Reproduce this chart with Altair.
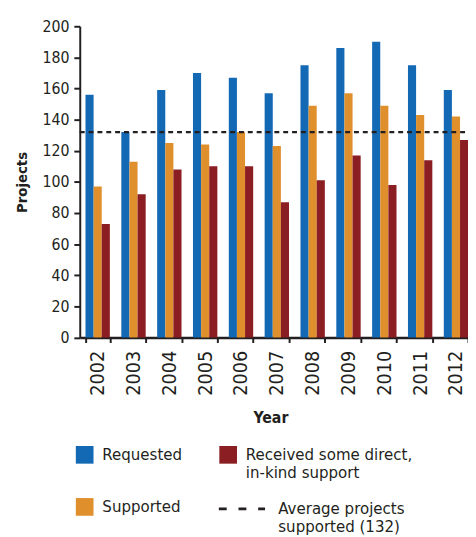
import altair as alt
import pandas as pd

years = [str(y) for y in range(2002, 2013)]
requested = [156, 132, 159, 170, 167, 157, 175, 186, 190, 175, 159]
supported = [97, 113, 125, 124, 132, 123, 149, 157, 149, 143, 142]
received = [73, 92, 108, 110, 110, 87, 101, 117, 98, 114, 127]
average_supported = 132

s_req = "Requested"
s_sup = "Supported"
s_rec = "Received some direct,|in-kind support"
avg_label = "Average projects|supported (132)"

rows = []
for i, yr in enumerate(years):
    rows.append({"Year": yr, "Series": s_req, "Projects": requested[i]})
    rows.append({"Year": yr, "Series": s_sup, "Projects": supported[i]})
    rows.append({"Year": yr, "Series": s_rec, "Projects": received[i]})
df = pd.DataFrame(rows)
avg_df = pd.DataFrame([{"value": average_supported, "label": avg_label}])

FONT = "Liberation Sans Narrow, DejaVu Sans Condensed, Arial Narrow, sans-serif"
INK = "#231f20"
y_scale = alt.Scale(domain=[0, 200])
y_axis = alt.Axis(
    title="Projects", values=list(range(0, 201, 20)), tickCount=11,
    labelFontSize=16, labelOverlap=False, labelPadding=5, tickSize=6,
    tickWidth=2, tickColor=INK, domainWidth=2, domainColor=INK, grid=False,
    titleFontSize=15, titleFontWeight="bold", titlePadding=13,
)

bars = alt.Chart(df).mark_bar().encode(
    x=alt.X(
        "Year:N",
        scale=alt.Scale(paddingInner=0.32, paddingOuter=0.16),
        axis=alt.Axis(
            title="Year", labelAngle=-90, labelFontSize=20, labelPadding=8,
            tickBand="extent", tickSize=5, tickWidth=2, tickColor=INK,
            domainWidth=2.5, domainColor=INK, titleFontSize=16, titleFontWeight="bold",
            titlePadding=15, titleX=194,
        ),
    ),
    xOffset=alt.XOffset("Series:N", sort=[s_req, s_sup, s_rec]),
    y=alt.Y("Projects:Q", scale=y_scale, axis=y_axis),
    color=alt.Color(
        "Series:N",
        scale=alt.Scale(domain=[s_req, s_sup, s_rec], range=["#1469b4", "#e08f2d", "#8b1e22"]),
        legend=alt.Legend(
            title=None, orient="none", legendX=-4, legendY=427, columns=2,
            symbolType="square", symbolSize=324, symbolStrokeWidth=0,
            labelFontSize=17, labelOffset=9, labelLimit=300, columnPadding=37,
            rowPadding=17,
            labelExpr="indexof(datum.label, '|') >= 0 ? split(datum.label, '|') : [datum.label, ' ']",
        ),
    ),
)

rule = alt.Chart(avg_df).mark_rule(strokeDash=[5, 4], strokeWidth=2.5).encode(
    y=alt.Y("value:Q", scale=y_scale, axis=y_axis, title="Projects"),
    stroke=alt.Stroke(
        "label:N",
        scale=alt.Scale(range=[INK]),
        legend=alt.Legend(
            title=None, orient="none", legendX=140, legendY=466,
            symbolType="stroke", symbolSize=2209, symbolDash=[8, 12],
            symbolStrokeWidth=3, labelFontSize=17, labelOffset=12, labelLimit=300,
            labelExpr="split(datum.label, '|')",
        ),
    ),
)

chart = (
    alt.layer(bars, rule)
    .properties(
        width=401, height=316.7, autosize=alt.AutoSizeParams(type="none"),
        padding={"left": 73, "top": 14, "right": -6, "bottom": 198},
    )
    .configure_view(stroke=None)
    .configure_axis(labelFont=FONT, titleFont=FONT, labelColor=INK, titleColor=INK)
    .configure_legend(labelFont=FONT, labelColor=INK, padding=0)
)

chart.save("out.html", embed_options={"renderer": "svg", "actions": False})
